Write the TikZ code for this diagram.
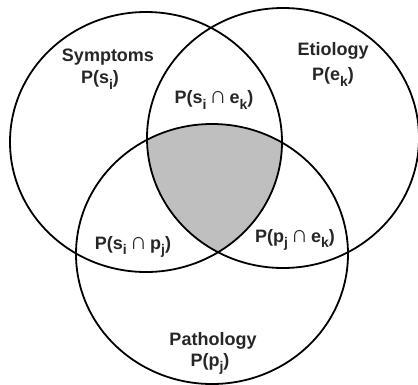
\documentclass[tikz,border=0pt]{standalone}
\usepackage{fontspec}
\setmainfont{Liberation Sans}
\usepackage{tikz}
\usetikzlibrary{positioning}

\newcommand{\Sub}[1]{\raisebox{-0.55ex}{\fontsize{14}{14}\selectfont #1}}
\newcommand{\Cap}{\,{\fontsize{24}{20}\selectfont\mdseries ∩}\,}

\begin{document}
\begin{tikzpicture}[x=1pt, y=1pt]
			\tikzstyle{Set}		= [draw=black, line width=1.8pt]
			\tikzstyle{Core}	= [fill=black!25]
			\tikzstyle{Label}	= [inner sep=0pt, font=\bfseries\fontsize{18}{20}\selectfont, text=black!85]

			\useasboundingbox (0,0) rectangle (418,384);

			% shaded part common to all three sets
			\begin{scope}
				\clip (146,242) ellipse [x radius=136pt, y radius=130pt];
				\clip (283,246) ellipse [x radius=136pt, y radius=130pt];
				\fill [Core] (212,130) ellipse [x radius=136pt, y radius=130pt];
			\end{scope}

			\draw [Set] (146,242) ellipse [x radius=136pt, y radius=130pt];
			\draw [Set] (283,246) ellipse [x radius=136pt, y radius=130pt];
			\draw [Set] (212,130) ellipse [x radius=136pt, y radius=130pt];

			\node (sym) at (108,327) [Label] {Symptoms};
			\node (ps) at (100,304) [Label] {P(s\Sub{i})};
			\node (eti) at (333,333) [Label] {Etiology};
			\node (pe) at (333,307) [Label] {P(e\Sub{k})};
			\node (pat) at (213,43) [Label] {Pathology};
			\node (pp) at (210,20) [Label] {P(p\Sub{j})};

			\node (se) at (214,284) [Label] {P(s\Sub{i}\Cap e\Sub{k})};
			\node (sp) at (133,137) [Label] {P(s\Sub{i}\Cap p\Sub{j})};
			\node (pk) at (295,144) [Label] {P(p\Sub{j}\Cap e\Sub{k})};
\end{tikzpicture}
\end{document}
